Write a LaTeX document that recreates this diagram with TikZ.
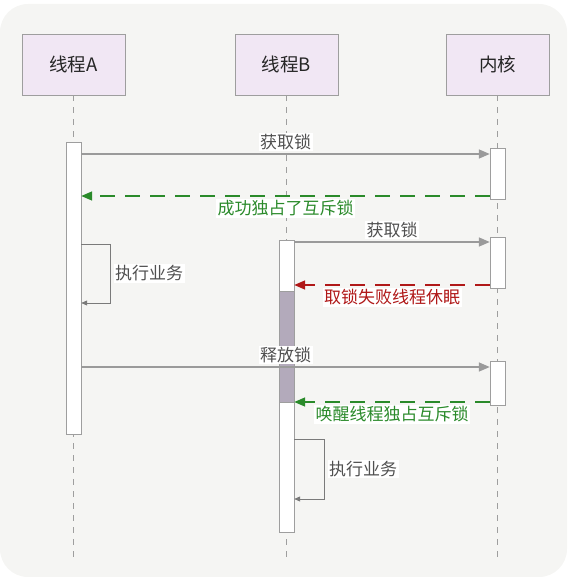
\documentclass[tikz,border=0pt]{standalone}
\usepackage{fontspec}
\setmainfont{Noto Sans CJK SC}
\usetikzlibrary{arrows.meta}
\definecolor{panelbg}{HTML}{F5F5F3}
\definecolor{actorfill}{HTML}{F1E7F4}
\definecolor{linegray}{HTML}{9E9E9E}
\definecolor{msggray}{HTML}{9A9A9A}
\definecolor{selfgray}{HTML}{7A7A7A}
\definecolor{textgray}{HTML}{505050}
\definecolor{okgreen}{HTML}{2A8A2A}
\definecolor{failred}{HTML}{B01818}
\definecolor{sleepfill}{HTML}{B3AABB}

\begin{document}
\begin{tikzpicture}[x=1pt, y=-1pt, every node/.style={font=\fontsize{17}{20}\selectfont},
	actor/.style={draw=linegray, fill=actorfill, minimum width=103pt, minimum height=61pt, font=\fontsize{18.5}{22}\selectfont, text=black!85},
	actbar/.style={draw=linegray, fill=white, minimum width=15pt, inner sep=0pt},
	life/.style={draw=linegray, line width=0.9pt, dash pattern=on 6pt off 6pt},
	call/.style={draw=msggray, line width=1.4pt, -{Triangle[length=11pt, width=9pt]}},
	reply/.style={line width=1.6pt, dash pattern=on 15pt off 10pt, -{Triangle[length=11pt, width=9pt]}},
	self/.style={draw=selfgray, line width=0.9pt, -{Triangle[length=6pt, width=5pt]}},
	tag/.style={fill=white, inner sep=1.5pt, text=textgray}]
	\useasboundingbox (0,0) rectangle (567,577);
	\fill[panelbg, rounded corners=28pt] (0,4) rectangle (567,577);
	% participants
	\node[actor] (ta) at (73.5,64.5) {线程A};
	\node[actor] (tb) at (286.5,64.5) {线程B};
	\node[actor] (kn) at (497.5,64.5) {内核};
	\coordinate (lend) at (0,560);
	\draw[life] (ta.south) -- (ta.south |- lend);
	\draw[life] (tb.south) -- (tb.south |- lend);
	\draw[life] (kn.south) -- (kn.south |- lend);
	% activations
	\node[actbar, minimum height=292pt] (barA) at (73.5,288) {};
	\node[actbar, minimum height=292pt] (barB) at (286.5,386) {};
	\node[actbar, fill=sleepfill, minimum height=111pt] (slp) at (286.5,346.5) {};
	\node[actbar, minimum height=51pt] (k1) at (497.5,173.5) {};
	\node[actbar, minimum height=51pt] (k2) at (497.5,262.5) {};
	\node[actbar, minimum height=44pt] (k3) at (497.5,383) {};
	% messages
	\coordinate (y1) at (0,154);
	\coordinate (y2) at (0,196);
	\coordinate (y3) at (0,242);
	\coordinate (y4) at (0,285);
	\coordinate (y5) at (0,367);
	\coordinate (y6) at (0,402);
	\draw[call] (barA.east |- y1) -- (k1.west |- y1) node[tag, midway, above=2pt] {获取锁};
	\draw[reply, okgreen] (k1.west |- y2) -- (barA.east |- y2) node[tag, midway, below=2pt, text=okgreen] {成功独占了互斥锁};
	\draw[call] (barB.east |- y3) -- (k2.west |- y3) node[tag, midway, above=2pt] {获取锁};
	\draw[reply, failred] (k2.west |- y4) -- (barB.east |- y4) node[tag, midway, below=2pt, text=failred] {取锁失败线程休眠};
	\draw[call] (barA.east |- y5) -- (k3.west |- y5) node[tag, midway, above=2pt] {释放锁};
	\draw[reply, okgreen] (k3.west |- y6) -- (barB.east |- y6) node[tag, midway, below=2pt, text=okgreen] {唤醒线程独占互斥锁};
	% self calls
	\coordinate (sa) at (0,244);
	\coordinate (sb) at (0,439);
	\draw[self] (barA.east |- sa) -- ++(29,0) -- ++(0,59) node[tag, midway, right=3pt] {执行业务} -- ++(-29,0);
	\draw[self] (barB.east |- sb) -- ++(30,0) -- ++(0,60) node[tag, midway, right=3pt] {执行业务} -- ++(-30,0);
\end{tikzpicture}
\end{document}
